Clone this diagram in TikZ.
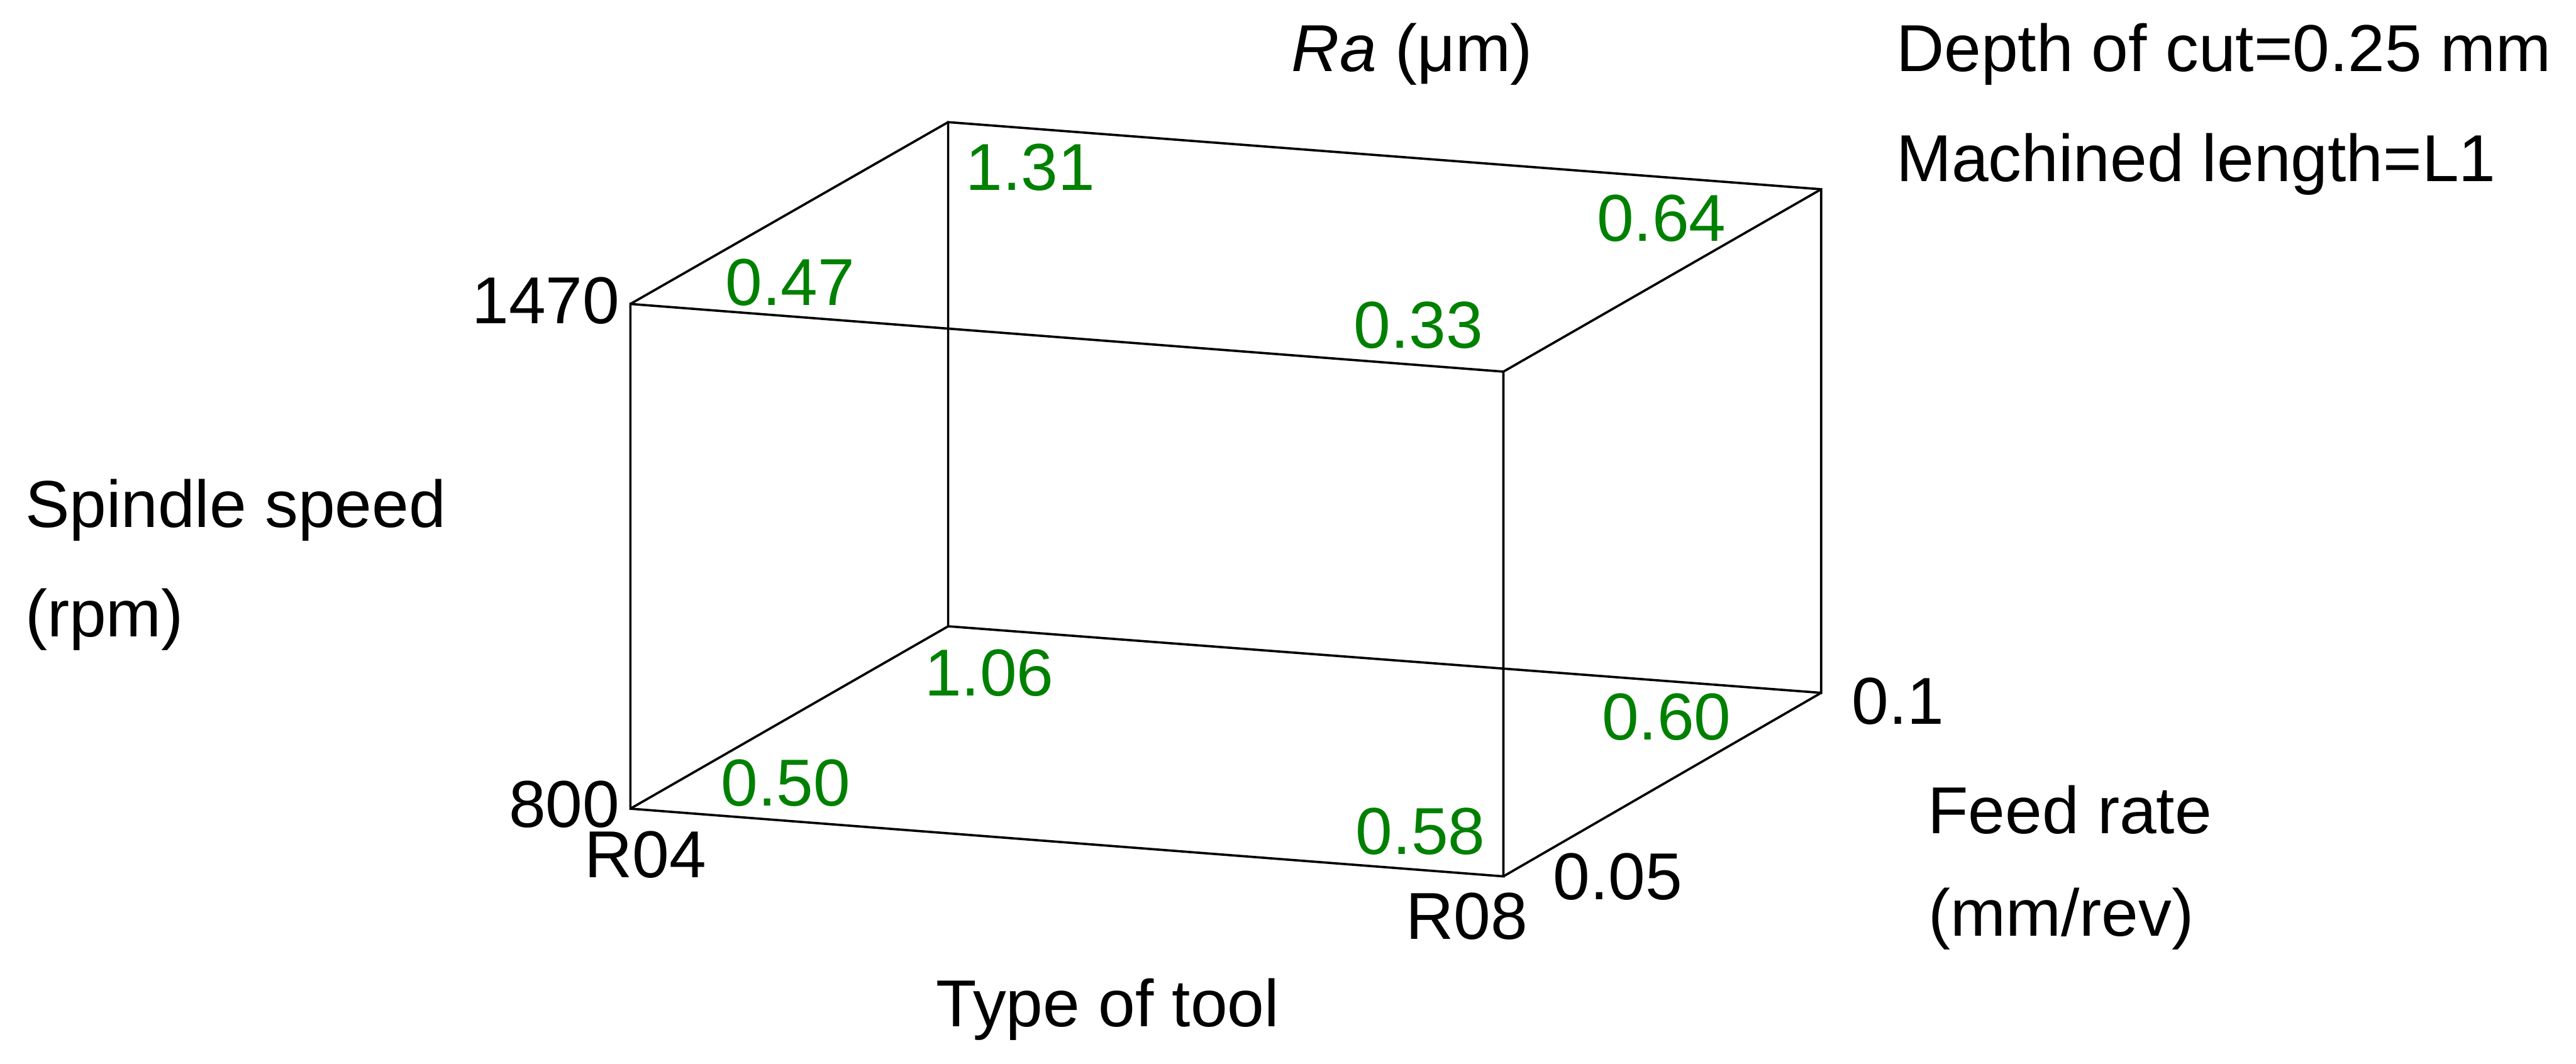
\documentclass[tikz,border=0pt]{standalone}
\usepackage{fontspec}
\setmainfont{Liberation Sans}
\definecolor{ragreen}{RGB}{0,128,0}
\tikzset{
  edge/.style={draw=black,line width=0.43pt},
  lbl/.style={inner sep=0pt,anchor=base west,font=\fontsize{12.4}{14}\selectfont},
  val/.style={lbl,text=ragreen},
}

\begin{document}
\begin{tikzpicture}[x=10.714pt,y=-10.714pt]
  \useasboundingbox (0,0) rectangle (44.91,18.55);
  % cube corners
  \coordinate (ftl) at (10.99,5.30);
  \coordinate (ftr) at (26.21,6.48);
  \coordinate (fbl) at (10.99,14.10);
  \coordinate (fbr) at (26.21,15.28);
  \coordinate (btl) at (16.53,2.13);
  \coordinate (btr) at (31.75,3.30);
  \coordinate (bbl) at (16.53,10.92);
  \coordinate (bbr) at (31.75,12.08);
  \draw[edge] (ftl) -- (ftr) -- (fbr) -- (fbl) -- cycle;
  \draw[edge] (btl) -- (btr) -- (bbr) -- (bbl) -- cycle;
  \draw[edge] (ftl) -- (btl) (ftr) -- (btr) (fbl) -- (bbl) (fbr) -- (bbr);

  % axis labels
  \node[lbl] (ra) at (22.50,1.24) {\textit{Ra} (μm)};
  \node[lbl] (depth) at (33.04,1.25) {Depth of cut=0.25 mm};
  \node[lbl] (mlen) at (33.04,3.16) {Machined length=L1};
  \node[lbl,anchor=base east] (n1470) at (10.82,5.64) {1470};
  \node[lbl,anchor=base east] (n800) at (10.82,14.42) {800};
  \node[lbl] (spindle) at (0.42,9.19) {Spindle speed};
  \node[lbl] (rpm) at (0.42,11.10) {(rpm)};
  \node[lbl] (r04) at (10.17,15.30) {R04};
  \node[lbl] (r08) at (24.49,16.37) {R08};
  \node[lbl] (tool) at (16.30,17.90) {Type of tool};
  \node[lbl] (f005) at (27.06,15.69) {0.05};
  \node[lbl] (f01) at (32.27,12.63) {0.1};
  \node[lbl] (feed) at (33.59,14.53) {Feed rate};
  \node[lbl] (mmrev) at (33.60,16.32) {(mm/rev)};

  % Ra values
  \node[val] (v131) at (16.82,3.32) {1.31};
  \node[val] (v064) at (27.82,4.20) {0.64};
  \node[val] (v047) at (12.63,5.32) {0.47};
  \node[val] (v033) at (23.58,6.07) {0.33};
  \node[val] (v106) at (16.10,12.13) {1.06};
  \node[val] (v060) at (27.91,12.90) {0.60};
  \node[val] (v050) at (12.55,14.05) {0.50};
  \node[val] (v058) at (23.62,14.90) {0.58};
\end{tikzpicture}
\end{document}
